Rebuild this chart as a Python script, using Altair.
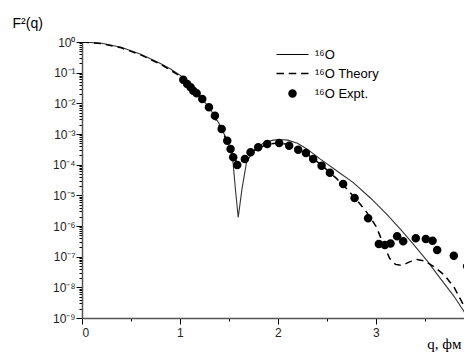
import altair as alt
import pandas as pd

series_names = ["¹⁶O", "¹⁶O Theory", "¹⁶O Expt."]

# 16O model curve (solid)
q_model = [0.0, 0.2, 0.4, 0.6, 0.8, 0.9, 1.0, 1.1, 1.2, 1.3, 1.4, 1.5, 1.54, 1.566,
           1.595, 1.633, 1.68, 1.75, 1.85, 1.95, 2.02, 2.1, 2.2, 2.3, 2.43, 2.6, 2.77,
           2.95, 3.11, 3.25, 3.38, 3.52, 3.65, 3.8, 3.94]
f2_model = [1.0, 0.912, 0.676, 0.398, 0.200, 0.135, 8.3e-2, 4.2e-2, 1.74e-2, 7.2e-3,
            2.2e-3, 4.7e-4, 1.4e-4, 1.6e-5, 1.9e-6, 1.6e-5, 1.2e-4, 2.8e-4, 5.0e-4,
            6.3e-4, 6.6e-4, 6.3e-4, 5.0e-4, 3.2e-4, 1.55e-4, 6.3e-5, 2.6e-5, 7.9e-6,
            2.45e-6, 7.9e-7, 2.6e-7, 7.6e-8, 2.1e-8, 5.0e-9, 1.05e-9]

# 16O theory curve (dashed)
q_theory = [0.0, 0.2, 0.4, 0.6, 0.8, 1.0, 1.1, 1.2, 1.3, 1.4, 1.5, 1.55, 1.59, 1.63,
            1.7, 1.8, 1.9, 2.0, 2.1, 2.2, 2.3, 2.4, 2.5, 2.6, 2.7, 2.8, 2.9, 3.0, 3.08,
            3.14, 3.2, 3.27, 3.35, 3.42, 3.5, 3.6, 3.7, 3.8, 3.93]
f2_theory = [1.0, 0.891, 0.646, 0.380, 0.191, 7.8e-2, 4.0e-2, 1.66e-2, 7.1e-3, 1.9e-3,
             4.5e-4, 1.8e-4, 1.05e-4, 1.2e-4, 2.2e-4, 3.5e-4, 4.7e-4, 5.1e-4, 4.6e-4,
             3.3e-4, 2.2e-4, 1.26e-4, 6.8e-5, 3.5e-5, 1.66e-5, 7.4e-6, 3.0e-6, 1.0e-6,
             2.5e-7, 8.9e-8, 5.6e-8, 5.2e-8, 6.9e-8, 8.1e-8, 7.2e-8, 4.6e-8, 2.5e-8,
             1.0e-8, 1.6e-9]

# 16O experimental points
q_expt = [1.034, 1.074, 1.109, 1.136, 1.170, 1.228, 1.296, 1.357, 1.426, 1.483, 1.517,
          1.544, 1.585, 1.663, 1.721, 1.799, 1.891, 2.013, 2.115, 2.207, 2.286, 2.360,
          2.446, 2.531, 2.666, 2.783, 2.921, 3.031, 3.092, 3.150, 3.217, 3.279, 3.408,
          3.510, 3.579, 3.626, 3.796, 3.932]
f2_expt = [5.9e-2, 4.28e-2, 3.33e-2, 2.58e-2, 2.12e-2, 1.38e-2, 7.4e-3, 3.95e-3, 1.46e-3,
           6.05e-4, 3.24e-4, 1.74e-4, 9.8e-5, 1.53e-4, 2.54e-4, 3.69e-4, 4.72e-4, 5.09e-4,
           4.16e-4, 3.08e-4, 2.40e-4, 1.53e-4, 9.3e-5, 5.4e-5, 2.34e-5, 8.2e-6, 1.79e-6,
           2.6e-7, 2.4e-7, 2.7e-7, 4.6e-7, 3.2e-7, 4.0e-7, 3.8e-7, 3.3e-7, 1.65e-7,
           1.08e-7, 4.9e-8]

x_ticks = [0, 0.5, 1, 1.5, 2, 2.5, 3, 3.5]
y_ticks = [m * 10.0 ** k for k in range(-9, 1) for m in range(1, 10) if m * 10.0 ** k <= 1.0]

df_model = pd.DataFrame({"q": q_model, "f2": f2_model, "series": series_names[0]})
df_theory = pd.DataFrame({"q": q_theory, "f2": f2_theory, "series": series_names[1]})
df_expt = pd.DataFrame({"q": q_expt, "f2": f2_expt, "series": series_names[2]})

is_decade = "abs(log(datum.value)/LN10 - round(log(datum.value)/LN10)) < 0.01"
sup = "'⁰¹²³⁴⁵⁶⁷⁸⁹'"
k = "(-round(log(datum.value)/LN10))"
y_label_expr = (f"{is_decade} ? (datum.value > 0.5 ? '10⁰' : '10⁻' + substring({sup}, {k}, {k} + 1)) : ''")

x_enc = alt.X("q:Q",
              scale=alt.Scale(domain=[0, 3.9], nice=False, zero=False),
              axis=alt.Axis(values=x_ticks, title="q, фм",
                            labelExpr="datum.value % 1 == 0 ? datum.value : ''",
                            tickSize={"condition": {"test": "datum.value % 1 == 0", "value": 6}, "value": 3},
                            labelPadding=3, titleFont="Liberation Serif", titleFontSize=15,
                            titleFontWeight="normal", titleAnchor="end", titleAlign="right",
                            titleX=379, titleY=30, titleBaseline="alphabetic"))
y_enc = alt.Y("f2:Q",
              scale=alt.Scale(type="log", domain=[1e-9, 1], nice=False),
              axis=alt.Axis(values=y_ticks, title="F²(q)", labelExpr=y_label_expr,
                            tickSize={"condition": {"test": is_decade, "value": 6}, "value": 3},
                            labelPadding=1, titleAngle=0, titleAlign="left",
                            titleBaseline="alphabetic", titleX=-70, titleY=-15,
                            titleFontSize=14, titleFontWeight="normal",
                            titleFont="Liberation Sans"))

solid = alt.Chart(df_model).mark_line(color="#333333", strokeWidth=1.1, clip=True).encode(x=x_enc, y=y_enc)
dashed = alt.Chart(df_theory).mark_line(color="black", strokeWidth=1.5, strokeDash=[7, 5], clip=True).encode(x=x_enc, y=y_enc)

# legend glyphs drawn as thin filled shapes (unit = 5 px at size 100)
line_path = "M-3.2,-0.11L3.2,-0.11L3.2,0.11L-3.2,0.11Z"
dash_path = ("M-3.2,-0.15L-1.7,-0.15L-1.7,0.15L-3.2,0.15Z"
             "M-0.75,-0.15L0.75,-0.15L0.75,0.15L-0.75,0.15Z"
             "M1.7,-0.15L3.2,-0.15L3.2,0.15L1.7,0.15Z")
dot_path = "M-0.85,0A0.85,0.85,0,1,0,0.85,0A0.85,0.85,0,1,0,-0.85,0Z"

points = alt.Chart(df_expt).mark_point(filled=True, color="black", size=100, opacity=1, clip=True).encode(
    x=x_enc, y=y_enc,
    shape=alt.Shape("series:N",
                    scale=alt.Scale(domain=series_names, range=[line_path, dash_path, dot_path]),
                    legend=alt.Legend(title=None, orient="none", legendX=204, legendY=6,
                                      padding=0, symbolSize=100, symbolFillColor="black",
                                      symbolOpacity=1,
                                      labelOffset=16, rowPadding=5, labelFontSize=13,
                                      labelFont="Liberation Sans", labelColor="black"))
)

chart = alt.layer(solid, dashed, points).properties(
    width=382, height=276,
    autosize=alt.AutoSizeParams(type="none"),
    padding={"left": 74, "top": 34, "right": 0, "bottom": 34},
).configure_view(stroke=None).configure_axis(
    grid=False, domainColor="#555555", domainWidth=1.5, tickColor="black",
    labelFont="Liberation Sans", labelFontSize=12, labelColor="#222222",
    titleColor="black"
)

chart.save("out.html", embed_options={"renderer": "svg", "actions": False})
